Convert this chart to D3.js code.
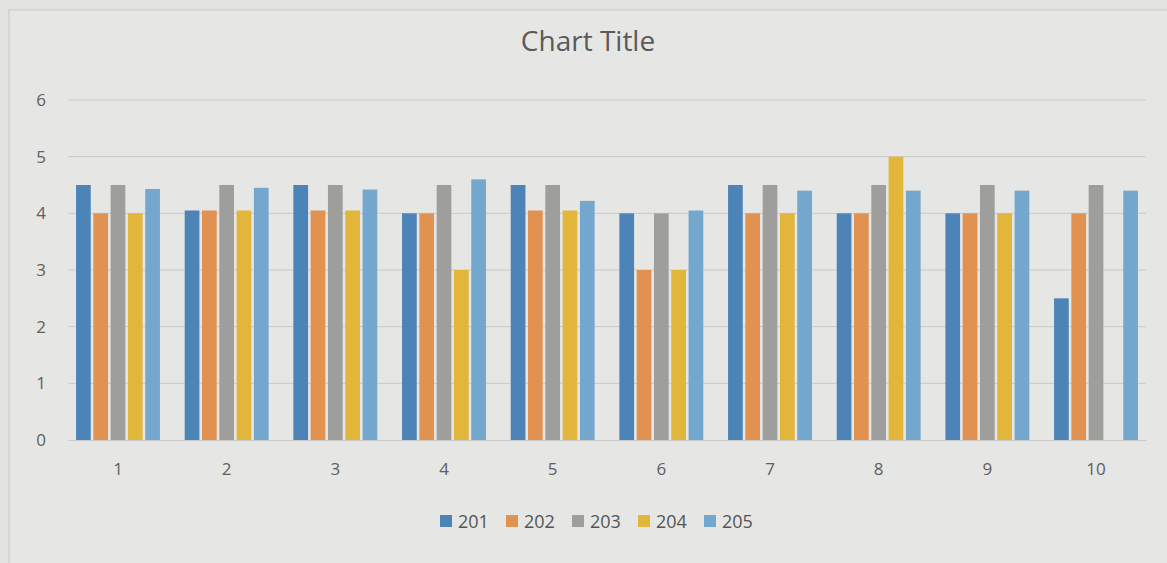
<!DOCTYPE html>
<html><head><meta charset="utf-8">
<script src="https://cdn.jsdelivr.net/npm/d3@7/dist/d3.min.js"></script>
<style>body{margin:0;background:#e3e3e1;} svg{display:block;}</style>
</head><body>
<svg id="c" width="1167" height="563"></svg>
<script>
const categories = ["1","2","3","4","5","6","7","8","9","10"];
const seriesNames = ["201","202","203","204","205"];
const s201 = [4.5, 4.05, 4.5, 4.0, 4.5, 4.0, 4.5, 4.0, 4.0, 2.5];
const s202 = [4.0, 4.05, 4.05, 4.0, 4.05, 3.0, 4.0, 4.0, 4.0, 4.0];
const s203 = [4.5, 4.5, 4.5, 4.5, 4.5, 4.0, 4.5, 4.5, 4.5, 4.5];
const s204 = [4.0, 4.05, 4.05, 3.0, 4.05, 3.0, 4.0, 5.0, 4.0, null];
const s205 = [4.43, 4.45, 4.42, 4.6, 4.22, 4.05, 4.4, 4.4, 4.4, 4.4];
const yTicks = [0,1,2,3,4,5,6];
const colors = ["#4d84b8","#e19150","#9e9e9c","#e2b63a","#73a7cd"];
const series = [s201,s202,s203,s204,s205];

const svg = d3.select("#c");
const margin = {left:68, right:1146, top:100, bottom:440};
const x = d3.scaleBand().domain(categories).range([margin.left, margin.right]).paddingInner(0.18).paddingOuter(0.05);
const xs = d3.scaleBand().domain(seriesNames).range([0, x.bandwidth()]).padding(0.15);
const y = d3.scaleLinear().domain([0,6]).range([margin.bottom, margin.top]);

// frame
svg.append("rect").attr("x",9).attr("y",10).attr("width",1170).attr("height",560)
  .attr("fill","#e6e6e4").attr("stroke","#c8c8c6").attr("stroke-width",1);

// title
svg.append("text").attr("x",588).attr("y",51).attr("text-anchor","middle")
  .attr("font-family","Open Sans, Liberation Sans, sans-serif").attr("font-size",28)
  .attr("fill","#5a5a5a").text("Chart Title");

// grid
svg.append("g").selectAll("line").data(yTicks.filter(d=>d>0)).join("line")
  .attr("x1",margin.left).attr("x2",margin.right)
  .attr("y1",d=>y(d)).attr("y2",d=>y(d))
  .attr("stroke","#c9c9c7").attr("stroke-width",1);

// y axis labels
const yAxis = d3.axisLeft(y).tickValues(yTicks).tickSize(0).tickPadding(22).tickFormat(d3.format("d"));
const gy = svg.append("g").attr("transform",`translate(${margin.left},0)`).call(yAxis);
gy.select(".domain").remove();
gy.selectAll("text").attr("font-family","Open Sans, Liberation Sans, sans-serif").attr("font-size",17).attr("fill","#606060");

// bars
const g = svg.append("g");
categories.forEach((c,i)=>{
  series.forEach((s,j)=>{
    const v = s[i];
    if (v==null) return;
    g.append("rect").attr("x",x(c)+xs(seriesNames[j])).attr("width",xs.bandwidth())
      .attr("y",y(v)).attr("height",y(0)-y(v)).attr("fill",colors[j]);
  });
});

// x axis
const xAxis = d3.axisBottom(x).tickSize(0).tickPadding(23);
const gx = svg.append("g").attr("transform",`translate(0,${margin.bottom})`).call(xAxis);
gx.select(".domain").attr("stroke","#c9c9c7");
gx.selectAll("text").attr("font-family","Open Sans, Liberation Sans, sans-serif").attr("font-size",17).attr("fill","#606060");

// legend
const leg = svg.append("g");
const itemW = 66;
const startX = 440;
seriesNames.forEach((n,j)=>{
  const gx0 = startX + j*itemW;
  leg.append("rect").attr("x",gx0).attr("y",515).attr("width",12).attr("height",12).attr("fill",colors[j]);
  leg.append("text").attr("x",gx0+18).attr("y",528).attr("font-family","Open Sans, Liberation Sans, sans-serif")
    .attr("font-size",18).attr("fill","#555").text(n);
});
</script>
</body></html>
